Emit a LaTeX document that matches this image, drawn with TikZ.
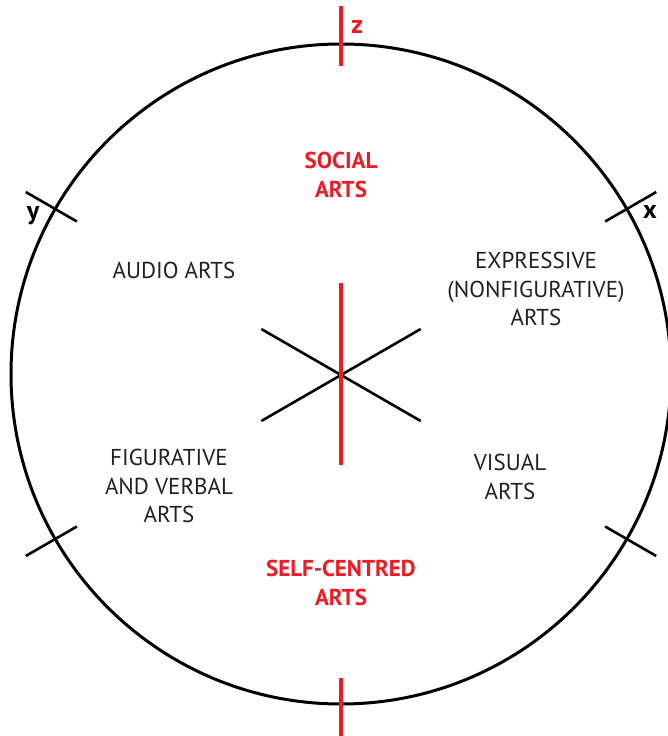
\documentclass[tikz,border=0pt]{standalone}
\usepackage{fontspec}
\setmainfont{PT Sans}
\usetikzlibrary{calc}
\definecolor{artred}{HTML}{ED1C24}
\definecolor{artblack}{HTML}{231F20}
\begin{document}
\begin{tikzpicture}[x=1pt,y=-1pt,
  blackline/.style={draw=black,line width=2.6pt},
  redline/.style={draw=artred,line width=3.6pt},
  label/.style={font=\fontsize{23}{28.5}\selectfont,text=artblack,align=center,inner sep=0pt},
  redlabel/.style={font=\fontsize{23}{28.5}\selectfont\bfseries,text=artred,align=center,inner sep=0pt},
  axislabel/.style={font=\fontsize{26}{28}\selectfont\bfseries,inner sep=0pt}]
\useasboundingbox (0,0) rectangle (668,736);
\coordinate (c) at (341,374);
\node[circle,draw=black,line width=3pt,minimum size=660pt,inner sep=0pt] (rim) at (c) {};
% ticks on the rim
\foreach \a/\n in {30/tx,150/ty,210/tll,330/tlr}{
  \coordinate (\n a) at ($(c)+(\a:305pt)$);
  \coordinate (\n b) at ($(c)+(\a:364pt)$);
  \draw[blackline] (\n a) -- (\n b);
}
\coordinate (tza) at ($(c)+(0,-308)$);
\coordinate (tzb) at ($(c)+(0,-368)$);
\draw[redline] (tza) -- (tzb);
\coordinate (tba) at ($(c)+(0,304)$);
\coordinate (tbb) at ($(c)+(0,370)$);
\draw[redline] (tba) -- (tbb);
% central star
\coordinate (o) at (341,375);
\coordinate (s1) at ($(o)+(30:-92pt)$);
\coordinate (s2) at ($(o)+(30:92pt)$);
\coordinate (s3) at ($(o)+(-30:-92pt)$);
\coordinate (s4) at ($(o)+(-30:92pt)$);
\draw[blackline] (s1) -- (s2);
\draw[blackline] (s3) -- (s4);
\coordinate (r1) at (341,283);
\coordinate (r2) at (341,465);
\draw[redline] (r1) -- (r2);
% axis labels
\node[axislabel,text=artred] (z) at (357,27) {z};
\node[axislabel,text=black] (y) at (33,216) {y};
\node[axislabel,text=black] (x) at (650,212) {x};
% region labels
\node[redlabel] (social) at (341,175) {SOCIAL\\ARTS};
\node[label] (audio) at (174,270) {AUDIO ARTS};
\node[label] (expr) at (536,289) {EXPRESSIVE\\(NONFIGURATIVE)\\ARTS};
\node[label] (fig) at (169,486) {FIGURATIVE\\AND VERBAL\\ARTS};
\node[label] (visual) at (510,477) {VISUAL\\ARTS};
\node[redlabel] (self) at (341,583) {SELF-CENTRED\\ARTS};
\end{tikzpicture}
\end{document}
